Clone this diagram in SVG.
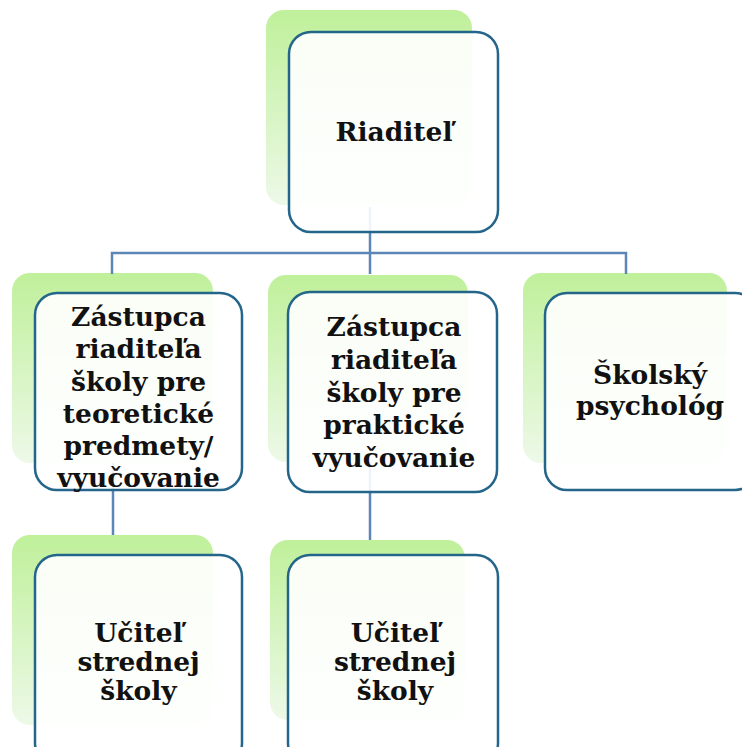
<svg xmlns="http://www.w3.org/2000/svg" width="742" height="747" viewBox="0 0 742 747">
<defs>
<linearGradient id="g" x1="0" y1="0" x2="0" y2="1">
<stop offset="0" stop-color="#bff09a"/>
<stop offset="1" stop-color="#edf9e8"/>
</linearGradient>
</defs>
<style>
.back{fill:url(#g);}
.front{fill:#ffffff;fill-opacity:0.9;stroke:#24658a;stroke-width:2.5;}
.conn{fill:none;stroke:#5b86b5;stroke-width:2.5;}
text{font-family:"DejaVu Serif","Liberation Serif",serif;font-weight:bold;font-size:26.5px;fill:#111;text-anchor:middle;}
</style>
<rect width="742" height="747" fill="#ffffff"/>
<g id="backs">
<rect class="back" x="266" y="10" width="206" height="195" rx="18"/>
<rect class="back" x="12" y="273" width="201" height="190" rx="18"/>
<rect class="back" x="268" y="275" width="200" height="187" rx="18"/>
<rect class="back" x="523" y="273" width="204" height="190" rx="18"/>
<rect class="back" x="12" y="535" width="201" height="190" rx="18"/>
<rect class="back" x="270" y="540" width="195" height="180" rx="18"/>
</g>
<g id="connectors">
<path class="conn" d="M370 207 V253 M112 274 V253 H626 V274 M370 253 V274"/>
<path class="conn" d="M113 463 V535"/>
<path class="conn" d="M370 462 V540"/>
</g>
<g id="root">
<rect class="front" x="289" y="32" width="209" height="200" rx="22"/>
<text x="394" y="141">Riaditeľ</text>
</g>
<g id="deputy-theory">
<rect class="front" x="35" y="293" width="207" height="197" rx="22"/>
<text x="138.5" y="326">Zástupca</text>
<text x="138.5" y="358">riaditeľa</text>
<text x="138.5" y="390.5">školy pre</text>
<text x="138.5" y="423">teoretické</text>
<text x="138.5" y="455">predmety/</text>
<text x="138.5" y="487">vyučovanie</text>
</g>
<g id="deputy-practice">
<rect class="front" x="288" y="292" width="209" height="200" rx="22"/>
<text x="394" y="336">Zástupca</text>
<text x="394" y="368.5">riaditeľa</text>
<text x="394" y="401.5">školy pre</text>
<text x="394" y="434">praktické</text>
<text x="394" y="467">vyučovanie</text>
</g>
<g id="psychologist">
<rect class="front" x="545" y="293" width="212" height="197" rx="22"/>
<text x="650" y="384">Školský</text>
<text x="650" y="415">psychológ</text>
</g>
<g id="teacher-1">
<rect class="front" x="35" y="555" width="207" height="210" rx="22"/>
<text x="138.5" y="642">Učiteľ</text>
<text x="138.5" y="671">strednej</text>
<text x="138.5" y="700">školy</text>
</g>
<g id="teacher-2">
<rect class="front" x="288" y="555" width="210" height="210" rx="22"/>
<text x="395" y="642">Učiteľ</text>
<text x="395" y="671">strednej</text>
<text x="395" y="700">školy</text>
</g>
</svg>
